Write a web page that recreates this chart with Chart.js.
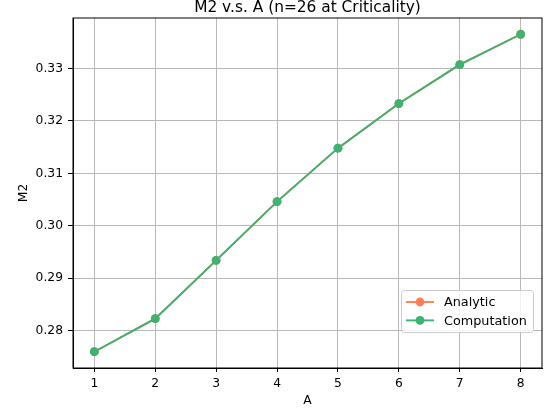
<!DOCTYPE html>
<html>
<head>
<meta charset="utf-8">
<script src="https://cdn.jsdelivr.net/npm/chart.js@4/dist/chart.umd.min.js"></script>
<style>
  html, body { margin: 0; padding: 0; background: #fff; }
  #wrap { width: 549px; height: 415px; }
</style>
</head>
<body>
<div id="wrap"><canvas id="m2Chart" width="549" height="415"></canvas></div>
<script>
const aValues = [1, 2, 3, 4, 5, 6, 7, 8];
const analytic = [0.2760, 0.2823, 0.2934, 0.3046, 0.3148, 0.3233, 0.3307, 0.3365];
const computation = [0.2760, 0.2823, 0.2934, 0.3046, 0.3148, 0.3233, 0.3307, 0.3365];
const yTicks = [0.28, 0.29, 0.30, 0.31, 0.32, 0.33];
const xTicks = [1, 2, 3, 4, 5, 6, 7, 8];

const FONT = 'DejaVu Sans';
const TICK_SIZE = 12.3;
const ORANGE = '#ff7f50';
const GREEN = '#3cb371';

const pts = ys => aValues.map((x, i) => ({ x: x, y: ys[i] }));

// title, top/right spines and the legend box
const decorations = {
  id: 'decorations',
  afterDraw(chart) {
    const { ctx, chartArea: a } = chart;
    ctx.save();
    ctx.strokeStyle = '#000';
    ctx.lineWidth = 1;
    ctx.strokeRect(a.left, a.top, a.right - a.left, a.bottom - a.top);

    ctx.fillStyle = '#000';
    ctx.font = '15.4px "' + FONT + '"';
    ctx.textAlign = 'center';
    ctx.textBaseline = 'alphabetic';
    ctx.fillText('M2 v.s. A (n=26 at Criticality)', (a.left + a.right) / 2, 12);

    // legend
    const bx = 401.5, by = 290.5, bw = 132, bh = 42;
    ctx.beginPath();
    ctx.roundRect(bx, by, bw, bh, 3);
    ctx.fillStyle = 'rgba(255,255,255,0.8)';
    ctx.fill();
    ctx.strokeStyle = '#cccccc';
    ctx.lineWidth = 1;
    ctx.stroke();

    const items = [['Analytic', ORANGE, 302], ['Computation', GREEN, 320.4]];
    ctx.font = '12.8px "' + FONT + '"';
    ctx.textAlign = 'left';
    ctx.textBaseline = 'middle';
    items.forEach(([label, color, y]) => {
      ctx.strokeStyle = color;
      ctx.lineWidth = 1.9;
      ctx.beginPath();
      ctx.moveTo(406, y);
      ctx.lineTo(434, y);
      ctx.stroke();
      ctx.fillStyle = color;
      ctx.beginPath();
      ctx.arc(420, y, 4.4, 0, Math.PI * 2);
      ctx.fill();
      ctx.fillStyle = '#000';
      ctx.fillText(label, 444, y + 1);
    });
    ctx.restore();
  }
};

new Chart(document.getElementById('m2Chart'), {
  type: 'line',
  data: {
    datasets: [
      {
        label: 'Analytic',
        data: pts(analytic),
        borderColor: ORANGE,
        backgroundColor: ORANGE,
        borderWidth: 1.9,
        pointRadius: 4.4,
        pointBorderWidth: 0,
        order: 1
      },
      {
        label: 'Computation',
        data: pts(computation),
        borderColor: GREEN,
        backgroundColor: GREEN,
        borderWidth: 1.9,
        pointRadius: 4.4,
        pointBorderWidth: 0,
        order: 0
      }
    ]
  },
  options: {
    responsive: false,
    animation: false,
    layout: { padding: { top: 18, right: 7, left: 0, bottom: 0 } },
    plugins: {
      legend: { display: false },
      title: { display: false },
      tooltip: { enabled: false }
    },
    scales: {
      x: {
        type: 'linear',
        min: 0.65,
        max: 8.35,
        afterFit: s => { s.height = 47; },
        afterBuildTicks: s => { s.ticks = xTicks.map(v => ({ value: v })); },
        ticks: {
          color: '#000',
          font: { family: FONT, size: TICK_SIZE },
          padding: 4,
          maxRotation: 0,
          callback: v => String(v)
        },
        grid: { color: '#b8b8b8', lineWidth: 1, tickLength: 4, tickColor: '#000', tickWidth: 1 },
        border: { color: '#000', width: 1 },
        title: {
          display: true,
          text: 'A',
          color: '#000',
          font: { family: FONT, size: TICK_SIZE },
          padding: { top: 2, bottom: 7 }
        }
      },
      y: {
        min: 0.2729,
        max: 0.3396,
        afterFit: s => { s.width = 73; },
        afterBuildTicks: s => { s.ticks = yTicks.map(v => ({ value: v })); },
        ticks: {
          color: '#000',
          font: { family: FONT, size: TICK_SIZE },
          padding: 5,
          callback: v => v.toFixed(2)
        },
        grid: { color: '#b8b8b8', lineWidth: 1, tickLength: 5, tickColor: '#000', tickWidth: 1 },
        border: { color: '#000', width: 1 },
        title: {
          display: true,
          text: 'M2',
          color: '#000',
          font: { family: FONT, size: TICK_SIZE },
          padding: { top: 16, bottom: 2 }
        }
      }
    }
  },
  plugins: [decorations]
});
</script>
</body>
</html>
